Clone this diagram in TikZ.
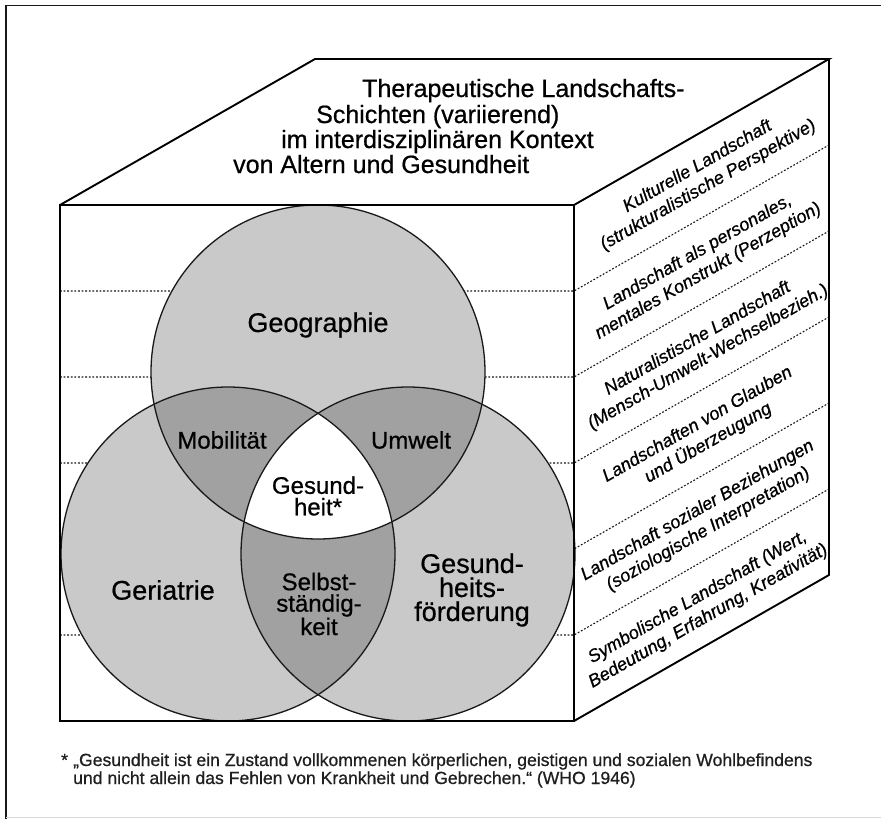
\documentclass[tikz,border=0pt]{standalone}
\usepackage{fontspec}
\setmainfont{Liberation Sans}[FakeBold=0.7]
\definecolor{lightfill}{gray}{0.79}
\definecolor{darkfill}{gray}{0.63}
\begin{document}
\begin{tikzpicture}[x=1pt,y=-1pt,
  edge/.style={line width=1.9pt, line join=miter},
  layerline/.style={line width=1.1pt, dash pattern=on 1.8pt off 1.8pt, draw=black!90},
  ring/.style={line width=1.3pt, draw=black!90},
  biglabel/.style={font=\fontsize{27}{24}\selectfont, align=center, inner sep=0pt},
  midlabel/.style={font=\fontsize{24}{21.5}\selectfont, align=center, inner sep=0pt},
  layerlabel/.style={font=\itshape\fontsize{18}{21.5}\selectfont, align=center, inner sep=0pt, rotate=29.8},
  titleline/.style={font=\fontsize{25}{25}\selectfont, anchor=base west, inner sep=0pt},
  noteline/.style={font=\fontsize{17.6}{18}\selectfont, anchor=base west, inner sep=0pt, text=black!88},
]
\fill[white] (0,0) rectangle (881,819);
\useasboundingbox (0,0) rectangle (881,819);

% page frame
\draw[line width=1.8pt, draw=black!90] (6,819) -- (6,5.5) -- (881,5.5);
\draw[line width=0.8pt, draw=black!15] (6,817) -- (881,817);

% cube corners
\coordinate (FTL) at (60,205);
\coordinate (FTR) at (574,205);
\coordinate (FBL) at (60,721);
\coordinate (FBR) at (574,721);
\coordinate (BTL) at (315,59);
\coordinate (BTR) at (829,59);
\coordinate (BBR) at (829,575);

% layer boundaries on the front and side faces
\foreach \y in {291,377,463,549,635} {
  \draw[layerline] (60,\y) -- (574,\y) -- ++(255,-146);
}

% three overlapping circles
\coordinate (CG) at (318,372);
\coordinate (CL) at (228,554);
\coordinate (CR) at (408,554);
\def\R{167pt}
\fill[lightfill] (CG) circle[radius=\R];
\fill[lightfill] (CL) circle[radius=\R];
\fill[lightfill] (CR) circle[radius=\R];
\begin{scope}
  \clip (CG) circle[radius=\R];
  \fill[darkfill] (CL) circle[radius=\R];
  \fill[darkfill] (CR) circle[radius=\R];
\end{scope}
\begin{scope}
  \clip (CL) circle[radius=\R];
  \fill[darkfill] (CR) circle[radius=\R];
\end{scope}
\begin{scope}
  \clip (CG) circle[radius=\R];
  \clip (CL) circle[radius=\R];
  \fill[white] (CR) circle[radius=\R];
\end{scope}
\draw[ring] (CG) circle[radius=\R];
\draw[ring] (CL) circle[radius=\R];
\draw[ring] (CR) circle[radius=\R];

% cube outline
\draw[edge] (FTL) rectangle (FBR);
\draw[edge] (FTL) -- (BTL) -- (BTR) -- (FTR);
\draw[edge] (BTR) -- (BBR) -- (FBR);

% title on the top face
\node[titleline] (t1) at (362,97) {Therapeutische Landschafts-};
\node[titleline] (t2) at (316,123) {Schichten (variierend)};
\node[titleline] (t3) at (281,148) {im interdisziplinären Kontext};
\node[titleline] (t4) at (233,173) {von Altern und Gesundheit};

% circle labels
\node[biglabel] (geo) at (318,325) {Geographie};
\node[biglabel] (ger) at (163,590) {Geriatrie};
\node[biglabel] (gf) at (472,590) {Gesund-\\heits-\\förderung};
\node[midlabel] (mob) at (222,440) {Mobilität};
\node[midlabel] (umw) at (411,440) {Umwelt};
\node[midlabel] (ges) at (318,496) {Gesund-\\heit*};
\node[midlabel] (sel) at (319,604) {Selbst-\\ständig-\\keit};

% layer names on the side face
\node[layerlabel] (l1) at (703,176) {Kulturelle Landschaft\\(strukturalistische Perspektive)};
\node[layerlabel] (l2) at (703,262) {Landschaft als personales,\\mentales Konstrukt (Perzeption)};
\node[layerlabel] (l3) at (703,348) {Naturalistische Landschaft\\(Mensch-Umwelt-Wechselbezieh.)};
\node[layerlabel] (l4) at (703,434) {Landschaften von Glauben\\und Überzeugung};
\node[layerlabel] (l5) at (703,520) {Landschaft sozialer Beziehungen\\(soziologische Interpretation)};
\node[layerlabel] (l6) at (703,607) {Symbolische Landschaft (Wert,\\Bedeutung, Erfahrung, Kreativität)};

% footnote
\node[noteline] (star) at (61,766) {*};
\node[noteline] (n1) at (73,766) {„Gesundheit ist ein Zustand vollkommenen körperlichen, geistigen und sozialen Wohlbefindens};
\node[noteline] (n2) at (73,784) {und nicht allein das Fehlen von Krankheit und Gebrechen.“ (WHO 1946)};
\end{tikzpicture}
\end{document}
